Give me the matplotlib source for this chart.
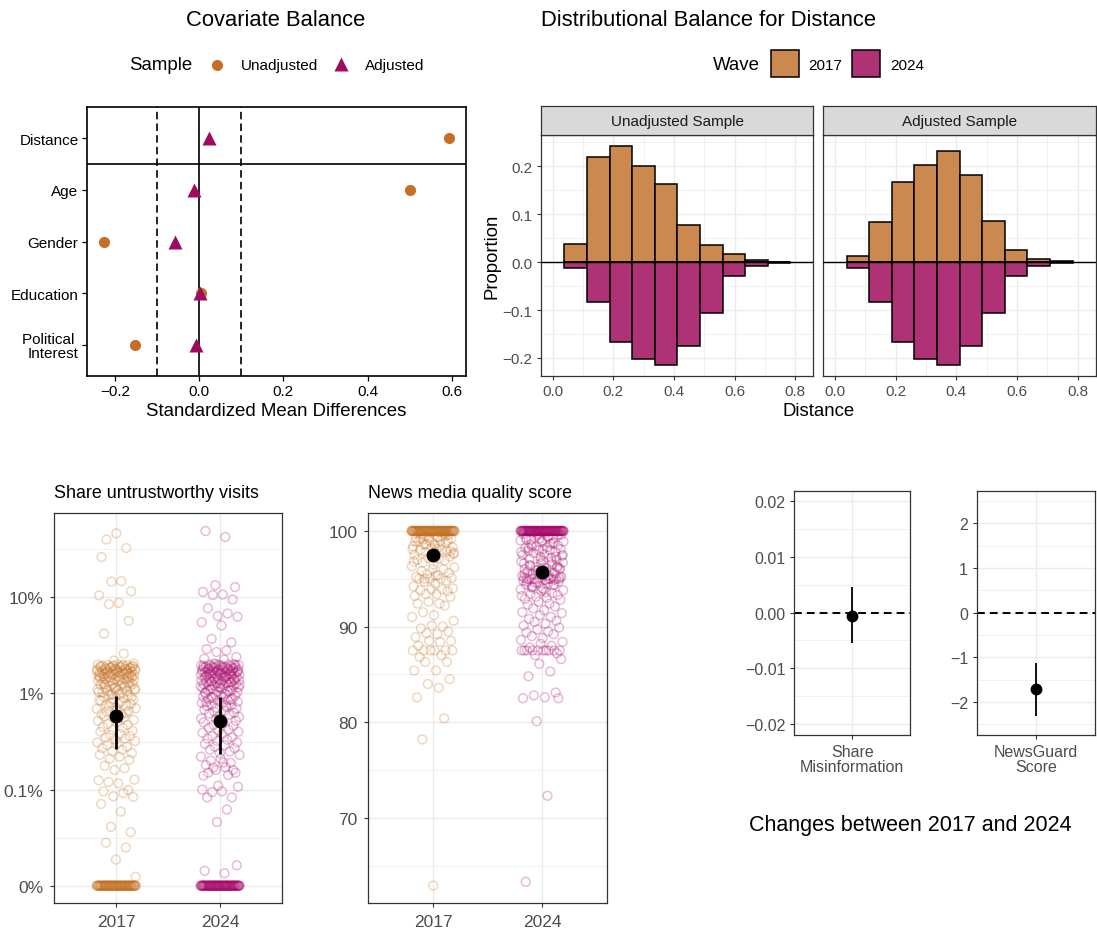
import numpy as np
import matplotlib
matplotlib.use("Agg")
import matplotlib.pyplot as plt
from matplotlib.colors import to_rgba
from matplotlib.lines import Line2D
from matplotlib.patches import Rectangle

plt.rcParams['font.family'] = ['Liberation Sans', 'DejaVu Sans']

# ------------------------------------------------------------------ data
covariates = ["Distance", "Age", "Gender", "Education", "Political \nInterest"]
smd_unadjusted = [0.594, 0.502, -0.226, 0.003, -0.153]
smd_adjusted = [0.024, -0.013, -0.058, 0.002, -0.007]

distance_bin_edges = [0.0385, 0.113, 0.1875, 0.262, 0.3365, 0.411,
                      0.4855, 0.56, 0.6345, 0.709, 0.7835]
prop_2017_unadjusted = [0.038, 0.220, 0.242, 0.201, 0.162, 0.077, 0.036, 0.016, 0.004, 0.001]
prop_2017_adjusted = [0.0125, 0.083, 0.168, 0.203, 0.231, 0.182, 0.085, 0.025, 0.007, 0.002]
prop_2024 = [0.012, 0.083, 0.167, 0.203, 0.215, 0.176, 0.107, 0.029, 0.009, 0.002]

waves = ["2017", "2024"]

# share of untrustworthy visits per respondent, in percent (non-zero values)
share_2017 = [46.4, 40.0, 32.7, 26.3, 14.8, 14.6, 11.6, 10.5, 8.8, 8.5, 5.7, 4.2, 2.6, 2.2,
              2.05, 2.0, 2.0, 1.98, 1.97, 1.95, 1.94, 1.92, 1.9, 1.9, 1.88, 1.87, 1.85, 1.84,
              1.82, 1.8, 1.8, 1.78, 1.77, 1.75, 1.73, 1.72, 1.7, 1.7, 1.68, 1.66, 1.65, 1.63,
              1.62, 1.6, 1.6, 1.58, 1.56, 1.55, 1.53, 1.52, 1.5, 1.5,
              1.99, 1.96, 1.93, 1.91, 1.89, 1.86, 1.83, 1.81, 1.79, 1.76, 1.74, 1.71, 1.69,
              1.67, 1.64, 1.61, 1.59, 1.57, 1.54, 1.51,
              1.48, 1.46, 1.45, 1.43, 1.42, 1.4, 1.38, 1.36, 1.35, 1.33, 1.32, 1.3, 1.28, 1.26,
              1.25, 1.23, 1.22, 1.2, 1.18, 1.16, 1.15, 1.13, 1.12, 1.1, 1.08, 1.06, 1.05, 1.03,
              1.02, 1.0, 1.47, 1.44, 1.39, 1.34, 1.29, 1.24, 1.19, 1.14, 1.09, 1.04,
              0.98, 0.96, 0.94, 0.92, 0.9, 0.88, 0.86, 0.84, 0.82, 0.8, 0.78, 0.76, 0.74, 0.72,
              0.7, 0.69, 0.67, 0.65, 0.63, 0.61, 0.6, 0.97, 0.91, 0.85, 0.79, 0.73, 0.66,
              0.58, 0.56, 0.55, 0.53, 0.52, 0.5, 0.48, 0.47, 0.45, 0.44, 0.42, 0.41, 0.4, 0.38,
              0.37, 0.36, 0.35, 0.34, 0.33, 0.32, 0.31, 0.3,
              0.29, 0.28, 0.27, 0.26, 0.25, 0.24, 0.23, 0.22, 0.21,
              0.204, 0.177, 0.167, 0.16, 0.127, 0.125, 0.116, 0.12, 0.099, 0.096, 0.092, 0.085,
              0.084, 0.071, 0.059, 0.041, 0.036, 0.028, 0.025, 0.0187, 0.0124]
share_2017_zeros = 80
share_2024 = [49.0, 42.5, 13.4, 12.8, 11.4, 10.7, 10.6, 9.5, 7.7, 6.8, 6.4, 6.3, 5.5, 5.1,
              3.7, 3.4, 2.9, 2.8, 2.7, 2.4, 2.3, 2.25,
              2.05, 2.02, 2.0, 2.0, 1.99, 1.97, 1.96, 1.95, 1.93, 1.92, 1.9, 1.9, 1.89, 1.87,
              1.86, 1.85, 1.83, 1.82, 1.8, 1.8, 1.79, 1.77, 1.76, 1.75, 1.73, 1.72, 1.7, 1.7,
              1.69, 1.67, 1.66, 1.65, 1.63, 1.62, 1.6, 1.6, 1.59, 1.57, 1.56, 1.55, 1.53, 1.52,
              1.5, 1.5, 2.01, 1.98, 1.94, 1.91, 1.88, 1.84, 1.81, 1.78, 1.74, 1.71, 1.68, 1.64,
              1.61, 1.58, 1.54, 1.51,
              1.49, 1.48, 1.46, 1.45, 1.44, 1.42, 1.41, 1.4, 1.38, 1.37, 1.36, 1.34, 1.33, 1.32,
              1.3, 1.29, 1.28, 1.26, 1.25, 1.24, 1.22, 1.21, 1.2, 1.18, 1.17, 1.16, 1.14, 1.13,
              1.12, 1.1, 1.08, 1.06, 1.05, 1.03, 1.01, 1.47, 1.43, 1.39, 1.35, 1.31, 1.27, 1.23,
              1.19, 1.15, 1.11, 1.07, 1.02,
              0.99, 0.97, 0.95, 0.93, 0.92, 0.9, 0.88, 0.87, 0.85, 0.84, 0.82, 0.8, 0.79, 0.77,
              0.76, 0.74, 0.72, 0.71, 0.7, 0.68, 0.66, 0.65, 0.63, 0.62, 0.6, 0.58, 0.57, 0.55,
              0.96, 0.91, 0.86, 0.81, 0.75,
              0.54, 0.52, 0.5, 0.49, 0.47, 0.46, 0.44, 0.42, 0.41, 0.4, 0.39, 0.38, 0.36, 0.35,
              0.34, 0.33, 0.32, 0.31, 0.3, 0.29, 0.28, 0.27, 0.26, 0.25,
              0.24, 0.23, 0.22, 0.21, 0.2, 0.19, 0.18, 0.17, 0.16, 0.15, 0.14,
              0.191, 0.17, 0.16, 0.15, 0.142, 0.11, 0.107, 0.1, 0.096, 0.094, 0.083, 0.083,
              0.062, 0.046, 0.0163, 0.0143, 0.0135]
share_2024_zeros = 85
share_mean = [0.58, 0.52]
share_ci_low = [0.265, 0.232]
share_ci_high = [0.95, 0.93]

# news media quality score per respondent (values below 100)
news_2017 = [62.9, 78.2, 80.4, 82.6, 83.6, 84.0, 84.5, 85.4, 85.4,
             86.3, 86.3, 86.8, 87.0, 87.5, 87.5, 87.5, 87.5, 87.5, 87.5, 88.0, 88.4, 88.5,
             88.5, 88.9, 89.2, 89.3, 89.5, 89.8, 90.0, 90.1, 90.6, 91.0, 91.2, 91.5, 92.2,
             92.4, 92.4, 92.6, 93.1, 93.2, 93.4, 93.4, 93.7, 93.8, 93.9, 93.9,
             94.0, 94.2, 94.5, 94.7, 94.8, 95.0, 95.0, 95.0, 95.1, 95.2, 95.4, 95.5, 95.6,
             95.8, 96.0, 96.0, 96.2, 96.3, 96.5, 96.7, 96.9, 97.0,
             97.1, 97.2, 97.3, 97.5, 97.6, 97.8, 97.9, 98.0, 98.0, 98.2, 98.3, 98.4, 98.5,
             98.6, 98.8, 98.9, 99.0, 99.0, 99.2, 99.3, 99.4, 99.5, 99.6, 99.7, 99.8,
             97.4, 97.7, 98.1, 98.7, 99.1, 99.5, 99.9, 98.5, 99.3, 97.9, 98.9,
             98.1, 98.6, 99.0, 99.2, 99.5, 99.8, 97.6, 96.8, 95.3, 95.0]
news_2017_perfect = 90
news_2024 = [63.3, 72.3, 80.1, 82.5, 82.5, 82.6, 82.8, 83.1, 84.8, 85.3, 86.1, 86.6,
             87.5, 87.5, 87.5, 87.5, 87.5, 87.5, 87.5, 87.5, 87.5, 87.5,
             87.0, 87.2, 87.8, 88.0, 88.2, 88.4, 88.6, 88.8, 89.0, 89.2, 89.4, 89.5, 89.7,
             89.9, 90.1, 90.3, 90.5, 90.6, 90.8, 91.0, 91.2, 91.4, 91.5, 91.7, 91.9, 92.1,
             92.3, 92.4, 92.6, 92.8, 92.9,
             93.0, 93.1, 93.3, 93.4, 93.5, 93.7, 93.8, 93.9, 94.0, 94.1, 94.3, 94.4, 94.5,
             94.6, 94.7, 94.8, 94.9, 95.0, 95.0, 95.0, 95.0, 95.1, 95.2, 95.3, 95.4, 95.5,
             95.6, 95.7, 95.8, 95.9, 96.0, 96.0, 96.1, 96.2, 96.3, 96.4, 96.5, 96.6, 96.7,
             96.8, 96.9, 94.2, 94.9, 95.0, 95.3, 95.6, 96.1, 96.6, 93.6, 94.6,
             97.0, 97.1, 97.2, 97.3, 97.4, 97.5, 97.6, 97.7, 97.8, 97.9, 98.0, 98.0, 98.1,
             98.2, 98.3, 98.4, 98.5, 98.6, 98.7, 98.8, 98.9, 99.0, 99.0, 99.1, 99.2, 99.3,
             99.4, 99.5, 99.6, 99.7, 99.8, 99.9, 97.3, 98.2, 98.7, 99.2, 99.6,
             93.2, 93.9, 94.1, 94.4, 94.7, 95.0, 95.0, 95.2, 95.5, 95.7, 95.9, 96.2, 96.4,
             96.8, 97.0, 97.5, 97.8, 98.1, 98.4, 98.8, 99.1, 99.4, 99.7, 95.0, 95.1, 94.9]
news_2024_perfect = 95
news_mean = [97.49, 95.74]

change_labels = ["Share\nMisinformation", "NewsGuard\nScore"]
change_estimate = [-0.00054, -1.72]
change_ci_low = [-0.0055, -2.32]
change_ci_high = [0.00456, -1.13]

# ------------------------------------------------------------------ style
C_UNADJ = "#C46E27"
C_ADJ = "#A1095F"
HIST_2017 = "#CB884F"
HIST_2024 = "#B03276"
PT_2017 = "#C4701F"
PT_2024 = "#A8066A"
GRID = "#EBEBEB"
FRAME = "#333333"
TICKTXT = "#4D4D4D"
MINUS = "\u2212"

W, H = 1097, 937
fig = plt.figure(figsize=(W / 100, H / 100), dpi=100)


def add_px_axes(x0, y0, x1, y1):
    return fig.add_axes([x0 / W, 1 - y1 / H, (x1 - x0) / W, (y1 - y0) / H])


def ftext(x, y, s, **kw):
    return fig.text(x / W, 1 - y / H, s, **kw)


def fmt(v, nd):
    s = f"{v:.{nd}f}"
    return s.replace("-", MINUS)


def style_bw(ax, xminor, yminor, lsize=11, pad=3):
    ax.set_facecolor("white")
    for s in ax.spines.values():
        s.set_color(FRAME)
        s.set_linewidth(0.9)
    ax.set_xticks(xminor, minor=True)
    ax.set_yticks(yminor, minor=True)
    ax.grid(which="major", color=GRID, lw=0.95)
    ax.grid(which="minor", color=GRID, lw=0.5)
    ax.set_axisbelow(True)
    ax.tick_params(which="minor", length=0)
    ax.tick_params(which="major", direction="out", length=3.2, width=0.8,
                   color=FRAME, labelcolor=TICKTXT, labelsize=lsize, pad=pad)


def spread_golden(n, half, phase=0.0):
    # evenly spaced offsets for tied values (a flat band of points)
    k = np.arange(n, dtype=float)
    return ((k * 0.6180339887498949 + phase) % 1.0 - 0.5) * 2 * half


def spread_corput(n, half, start=0):
    # van der Corput (base 2) offsets so neighbouring values land apart
    out = np.empty(n)
    for i in range(n):
        k, f, r = i + start + 1, 0.5, 0.0
        while k:
            r += f * (k & 1)
            k >>= 1
            f *= 0.5
        out[i] = r
    return (out - 0.5) * 2 * half


# ------------------------------------------------------------------ covariate balance
ax = add_px_axes(87, 108, 465.5, 377)
ypos = np.arange(len(covariates), 0, -1)
ax.axvline(0, color="black", lw=1.2, zorder=1)
for v in (-0.1, 0.1):
    ax.axvline(v, color="black", lw=1.2, ls=(0, (4.5, 2.5)), zorder=1)
ax.axhline(4.5, color="black", lw=1.2, zorder=1)
ax.plot(smd_unadjusted, ypos, "o", color=C_UNADJ, ms=8, mec="none", zorder=3)
ax.plot(smd_adjusted, ypos, "^", color=C_ADJ, ms=9.5, mec="none", zorder=4)
ax.set_xlim(-0.267, 0.633)
ax.set_ylim(0.4, 5.6)
ax.set_yticks(ypos, covariates)
xt = [-0.2, 0.0, 0.2, 0.4, 0.6]
ax.set_xticks(xt, [fmt(v, 1) for v in xt])
for s in ax.spines.values():
    s.set_color("black")
    s.set_linewidth(1.2)
ax.tick_params(direction="out", length=3.6, width=0.9, color="black",
               labelsize=11, labelcolor="black", pad=2.5)
for lab in ax.get_yticklabels():
    lab.set_linespacing(0.95)
ftext(276, 412, "Standardized Mean Differences", ha="center", va="center", fontsize=13.4)
ftext(276, 20, "Covariate Balance", ha="center", va="center", fontsize=15.8)

# legend: Sample
ftext(129, 66, "Sample", ha="left", va="center", fontsize=13.4)
fig.add_artist(Line2D([216.7 / W], [1 - 65.7 / H], marker="o", ms=8, color=C_UNADJ,
                      mec="none", transform=fig.transFigure))
ftext(241, 66, "Unadjusted", ha="left", va="center", fontsize=11)
fig.add_artist(Line2D([340.7 / W], [1 - 64.5 / H], marker="^", ms=9.5, color=C_ADJ,
                      mec="none", transform=fig.transFigure))
ftext(365, 66, "Adjusted", ha="left", va="center", fontsize=11)

# ------------------------------------------------------------------ distance histograms
edges = np.asarray(distance_bin_edges)
lefts = edges[:-1]
widths = np.diff(edges)


def hist_facet(x0, x1, p2017, title, show_y):
    ax = add_px_axes(x0, 136, x1, 376.7)
    style_bw(ax, [0.1, 0.3, 0.5, 0.7], [-0.15, -0.05, 0.05, 0.15, 0.25])
    ax.bar(lefts, p2017, width=widths, align="edge", color=HIST_2017,
           edgecolor="black", lw=1.1, zorder=3)
    ax.bar(lefts, -np.asarray(prop_2024), width=widths, align="edge", color=HIST_2024,
           edgecolor="black", lw=1.1, zorder=3)
    ax.axhline(0, color="black", lw=1.0, zorder=5)
    ax.set_xlim(-0.0385, 0.859)
    ax.set_ylim(-0.237, 0.265)
    xt = [0.0, 0.2, 0.4, 0.6, 0.8]
    ax.set_xticks(xt, [fmt(v, 1) for v in xt])
    yt = [-0.2, -0.1, 0.0, 0.1, 0.2]
    if show_y:
        ax.set_yticks(yt, [fmt(v, 1) for v in yt])
    else:
        ax.set_yticks(yt, [])
        ax.tick_params(axis="y", which="major", length=0)
    strip = add_px_axes(x0, 107.3, x1, 136)
    strip.set_facecolor("#D9D9D9")
    for s in strip.spines.values():
        s.set_color(FRAME)
        s.set_linewidth(0.9)
    strip.set_xticks([])
    strip.set_yticks([])
    strip.text(0.5, 0.5, title, transform=strip.transAxes, ha="center", va="center",
               fontsize=11, color="#1A1A1A")
    return ax


hist_facet(541, 813.3, prop_2017_unadjusted, "Unadjusted Sample", True)
hist_facet(823.3, 1095.5, prop_2017_adjusted, "Adjusted Sample", False)
ftext(492, 256.5, "Proportion", ha="center", va="center", rotation=90, fontsize=13.4)
ftext(818.4, 412, "Distance", ha="center", va="center", fontsize=13.4)
ftext(541, 20, "Distributional Balance for Distance", ha="left", va="center", fontsize=15.8)

# legend: Wave
ftext(712.7, 65.5, "Wave", ha="left", va="center", fontsize=13.4)
for (bx, col, lab) in ((770.7, HIST_2017, waves[0]), (852.3, HIST_2024, waves[1])):
    fig.add_artist(Rectangle((bx / W, 1 - 78.3 / H), 27.8 / W, 27.3 / H,
                             transform=fig.transFigure, facecolor=col,
                             edgecolor="black", lw=1.1))
    ftext(bx + 38, 65.5, lab, ha="left", va="center", fontsize=11)

# ------------------------------------------------------------------ jittered outcome panels
def outcome_panel(x0, x1, groups, extra, extra_value, colors, half, tf,
                  yt, ylabels, yminor, ylim, title):
    ax = add_px_axes(x0, 514.3, x1, 904)
    style_bw(ax, [], yminor, lsize=12.5, pad=4.5)
    for i, (vals, n_extra, col) in enumerate(zip(groups, extra, colors)):
        v = np.asarray(vals, float)
        xs = np.concatenate([i + 1 + spread_corput(len(v), half, start=3 * i),
                             i + 1 + spread_golden(n_extra, half, phase=0.37 * i)])
        ys = np.concatenate([tf(v), tf(np.full(n_extra, extra_value))])
        ax.scatter(xs, ys, s=40, facecolors="none",
                   edgecolors=[to_rgba(col, 0.27)], linewidths=1.1, zorder=3)
    ax.set_xlim(0.403, 2.597)
    ax.set_ylim(*ylim)
    ax.set_xticks([1, 2], waves)
    ax.set_yticks(yt, ylabels)
    ftext(x0, 494, title, ha="left", va="center", fontsize=12.9)
    return ax


def share_tf(v):
    return np.log10(np.maximum(np.asarray(v, float), 0.01) / 100.0)


ax = outcome_panel(54.3, 282.3, [share_2017, share_2024], [share_2017_zeros, share_2024_zeros],
                   0.0, [PT_2017, PT_2024], 0.19, share_tf,
                   [-1, -2, -3, -4], ["10%", "1%", "0.1%", "0%"], [-0.5, -1.5, -2.5, -3.5],
                   (-4.18, -0.125), "Share untrustworthy visits")
m = share_tf(share_mean)
lo = share_tf(share_ci_low)
hi = share_tf(share_ci_high)
ax.vlines([1, 2], lo, hi, color="black", lw=2.0, zorder=5)
ax.plot([1, 2], m, "o", color="black", ms=9, zorder=6)

ax = outcome_panel(368.3, 607, [news_2017, news_2024], [news_2017_perfect, news_2024_perfect],
                   100.0, [PT_2017, PT_2024], 0.2, lambda v: np.asarray(v, float),
                   [70, 80, 90, 100], ["70", "80", "90", "100"], [65, 75, 85, 95],
                   (61.08, 101.85), "News media quality score")
ax.plot([1, 2], news_mean, "o", color="black", ms=9, zorder=6)

# ------------------------------------------------------------------ change estimates
def change_panel(x0, x1, idx, yt, nd, yminor, ylim):
    ax = add_px_axes(x0, 491.7, x1, 736)
    style_bw(ax, [], yminor, lsize=11.5)
    ax.axhline(0, color="black", lw=1.4, ls=(0, (4, 2.6)), zorder=2)
    ax.vlines([1], [change_ci_low[idx]], [change_ci_high[idx]], color="black", lw=1.3, zorder=4)
    ax.plot([1], [change_estimate[idx]], "o", color="black", ms=7.5, zorder=5)
    ax.set_xlim(0.4, 1.6)
    ax.set_ylim(*ylim)
    ax.set_xticks([1], [change_labels[idx]])
    ax.set_yticks(yt, [fmt(v, nd) for v in yt])
    for lab in ax.get_xticklabels():
        lab.set_linespacing(1.0)
    return ax


change_panel(794.3, 910, 0, [-0.02, -0.01, 0.0, 0.01, 0.02], 2,
             [-0.015, -0.005, 0.005, 0.015], (-0.022, 0.0219))
change_panel(976.7, 1095, 1, [-2, -1, 0, 1, 2], 0,
             [-2.5, -1.5, -0.5, 0.5, 1.5, 2.5], (-2.74, 2.73))
ftext(910.5, 826, "Changes between 2017 and 2024", ha="center", va="center", fontsize=15.5)

fig.savefig("out.png", dpi=100)
